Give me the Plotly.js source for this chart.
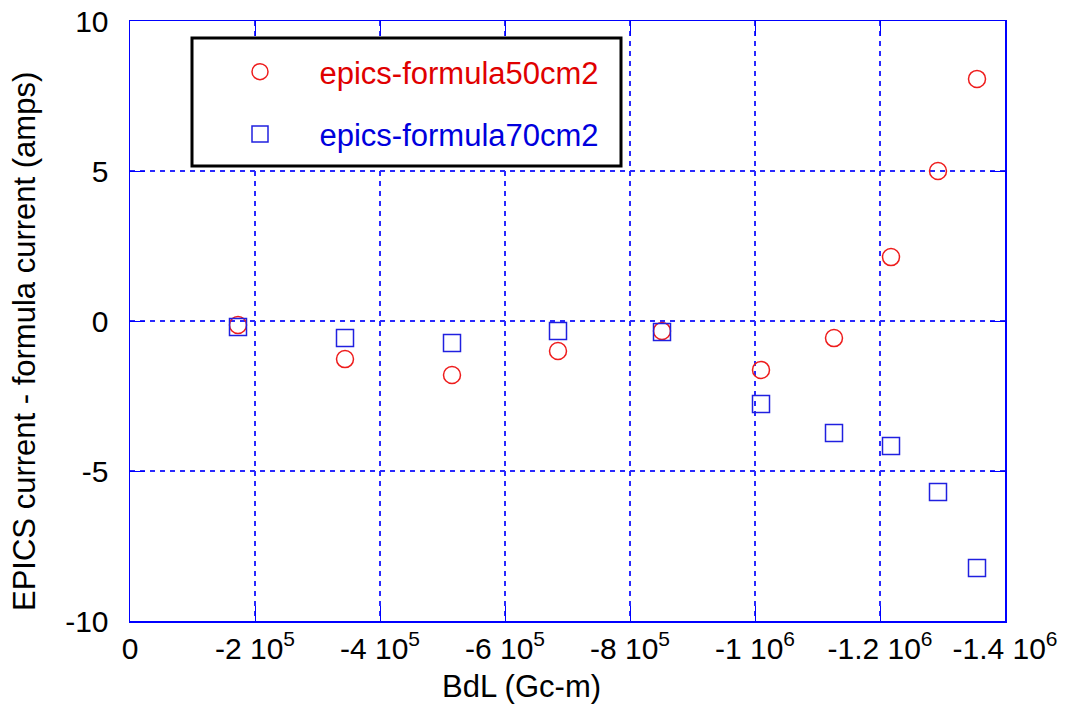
<!DOCTYPE html>
<html>
<head>
<meta charset="utf-8">
<script src="https://cdn.plot.ly/plotly-3.0.1.min.js"></script>
<style>html,body{margin:0;padding:0;background:#fff;}#chart{width:1066px;height:704px;}</style>
</head>
<body>
<div id="chart"></div>
<script>
const bdl = [-172800, -344000, -515200, -684800, -851200, -1009600, -1126400, -1217600, -1292800, -1355200];
const diff50 = [-0.13, -1.27, -1.8, -1.0, -0.33, -1.63, -0.57, 2.13, 5.0, 8.07];
const diff70 = [-0.2, -0.57, -0.73, -0.33, -0.37, -2.77, -3.73, -4.17, -5.7, -8.23];
const xTickVals = [0, -200000, -400000, -600000, -800000, -1000000, -1200000, -1400000];
const xTickText = ['0', '-2 10<sup>5</sup>', '-4 10<sup>5</sup>', '-6 10<sup>5</sup>', '-8 10<sup>5</sup>', '-1 10<sup>6</sup>', '-1.2 10<sup>6</sup>', '-1.4 10<sup>6</sup>'];
const yTickVals = [-10, -5, 0, 5, 10];
const nb = '\u00a0';
const name50 = nb.repeat(4) + 'epics-formula50cm2';
const name70 = nb.repeat(4) + 'epics-formula70cm2';

const font = 'Liberation Sans, Arial, sans-serif';
const traces = [
  {x: bdl, y: diff50, type: 'scatter', mode: 'markers', name: name50, legendgroup: 'a',
   marker: {symbol: 'circle-open', size: 17, color: '#ee1c1c', line: {width: 1.5, color: '#ee1c1c'}}},
  {x: bdl, y: diff70, type: 'scatter', mode: 'markers', name: name70, legendgroup: 'b',
   marker: {symbol: 'square-open', size: 17, color: '#2020e0', line: {width: 1.5, color: '#2020e0'}}}
];
const axisCommon = {
  showline: true, linecolor: '#0000ff', linewidth: 1.5, mirror: 'allticks',
  ticks: 'inside', ticklen: 15, tickcolor: '#0000ff', tickwidth: 1,
  showgrid: true, gridcolor: '#2a2aff', gridwidth: 1.5, griddash: '5px,5px',
  zeroline: false, tickfont: {family: font, size: 30, color: '#000'}
};
const px2x = function(p){ return (p - 130) / 875; };
const px2y = function(p){ return (621 - p) / 600; };
const layout = {
  width: 1066, height: 704,
  margin: {l: 130, r: 61, t: 21, b: 83},
  paper_bgcolor: '#fff', plot_bgcolor: '#fff',
  font: {family: font, size: 30, color: '#000'},
  xaxis: Object.assign({}, axisCommon, {
    range: [0, -1400000], tickmode: 'array', tickvals: xTickVals, ticktext: xTickText,
    ticklabelstandoff: 0
  }),
  yaxis: Object.assign({}, axisCommon, {
    range: [-10, 10], tickmode: 'array', tickvals: yTickVals, ticktext: yTickVals.map(String),
    ticklabelstandoff: 14
  }),
  showlegend: true,
  legend: {
    x: px2x(235), y: px2y(45), xanchor: 'left', yanchor: 'top',
    bgcolor: 'rgba(0,0,0,0)', borderwidth: 0,
    font: {family: font, size: 31}, traceorder: 'grouped', tracegroupgap: 19,
    itemwidth: 40
  },
  shapes: [
    {type: 'rect', xref: 'paper', yref: 'paper', x0: px2x(192), x1: px2x(621), y0: px2y(166), y1: px2y(38),
     line: {color: '#000', width: 3}, fillcolor: '#fff', layer: 'above'}
  ],
  annotations: [
    {xref: 'paper', yref: 'paper', x: px2x(521), y: px2y(686), text: 'BdL (Gc-m)', showarrow: false,
     xanchor: 'center', yanchor: 'middle', font: {family: font, size: 31, color: '#000'}},
    {xref: 'paper', yref: 'paper', x: px2x(25), y: px2y(342), text: 'EPICS current - formula current (amps)', showarrow: false,
     textangle: -90, xanchor: 'center', yanchor: 'middle', font: {family: font, size: 31, color: '#000'}}
  ]
};
Plotly.newPlot('chart', traces, layout, {displayModeBar: false, staticPlot: true}).then(function(){
  document.querySelectorAll('.legendtext').forEach(function(t, i){
    t.style.fill = i === 0 ? '#e00000' : '#0000dd';
  });
});
</script>
</body>
</html>
